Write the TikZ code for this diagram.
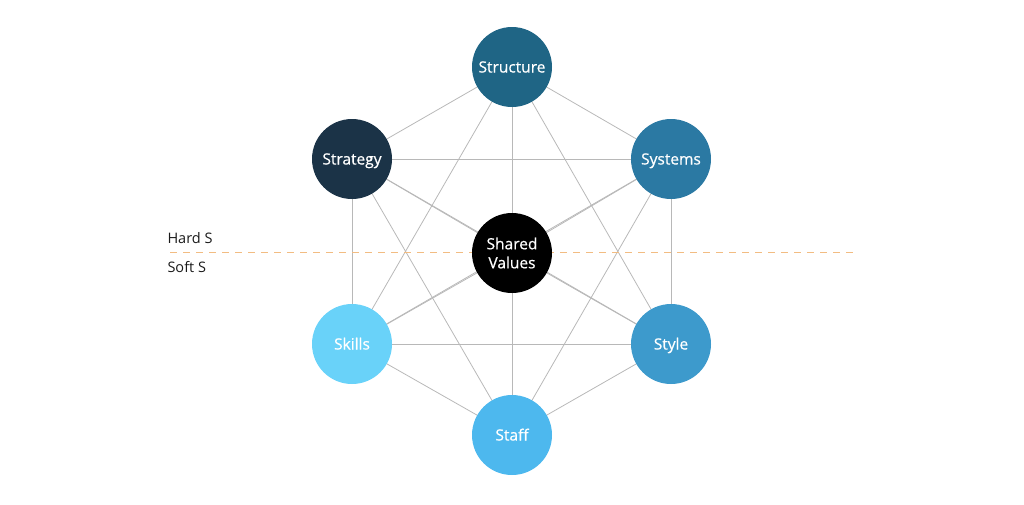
\documentclass[tikz,border=0pt]{standalone}
\usepackage{fontspec}
\setmainfont{Open Sans}
\newfontfamily\nodefont[FakeBold=0.6]{Open Sans}
\usepackage{xcolor}
\usetikzlibrary{backgrounds}
\definecolor{cstructure}{HTML}{1F6585}
\definecolor{cstrategy}{HTML}{1B3347}
\definecolor{csystems}{HTML}{2B79A3}
\definecolor{cskills}{HTML}{69D2F9}
\definecolor{cstyle}{HTML}{3D9ACC}
\definecolor{cstaff}{HTML}{4DB8EE}
\definecolor{edgegray}{HTML}{B8B8B8}
\definecolor{divider}{HTML}{F2BC82}
\definecolor{ink}{HTML}{1A1A1A}

\begin{document}
\begin{tikzpicture}[x=1pt, y=-1pt,
  snode/.style={circle, minimum size=80pt, inner sep=0pt, align=center,
                text=white, font=\nodefont\fontsize{15.5}{18}\selectfont,
                text height=11pt, text depth=0pt},
  link/.style={edgegray, line width=0.8pt},
  sidelabel/.style={anchor=west, text=ink, font=\fontsize{14.5}{17}\selectfont}
]
\useasboundingbox (0,0) rectangle (1024,504);
\node[snode, fill=cstructure] (structure) at (512,67) {Structure};
\node[snode, fill=cstrategy] (strategy) at (352,159) {Strategy};
\node[snode, fill=csystems] (systems) at (671,159) {Systems};
\node[snode, fill=black, text height=, text depth=,
      font=\nodefont\fontsize{15.5}{19}\selectfont] (shared) at (512,253) {Shared\\Values};
\node[snode, fill=cskills] (skills) at (352,344) {Skills};
\node[snode, fill=cstyle] (style) at (671,344) {Style};
\node[snode, fill=cstaff] (staff) at (512,435) {Staff};

\coordinate (cutleft) at (170,252);
\coordinate (cutright) at (855,252);
\node[sidelabel] (hard) at (164,238) {Hard S};
\node[sidelabel] (soft) at (164,267) {Soft S};

\begin{pgfonlayer}{background}
  % every S is tied to every other S
  \foreach \a/\rest in {structure/{strategy,systems,shared,skills,style,staff},
                        strategy/{systems,shared,skills,style,staff},
                        systems/{shared,skills,style,staff},
                        shared/{skills,style,staff},
                        skills/{style,staff},
                        style/{staff}}
    \foreach \b in \rest
      \draw[link] (\a.center) -- (\b.center);
  \draw[divider, line width=0.8pt, dash pattern=on 7pt off 6pt] (cutleft) -- (cutright);
\end{pgfonlayer}
\end{tikzpicture}
\end{document}
